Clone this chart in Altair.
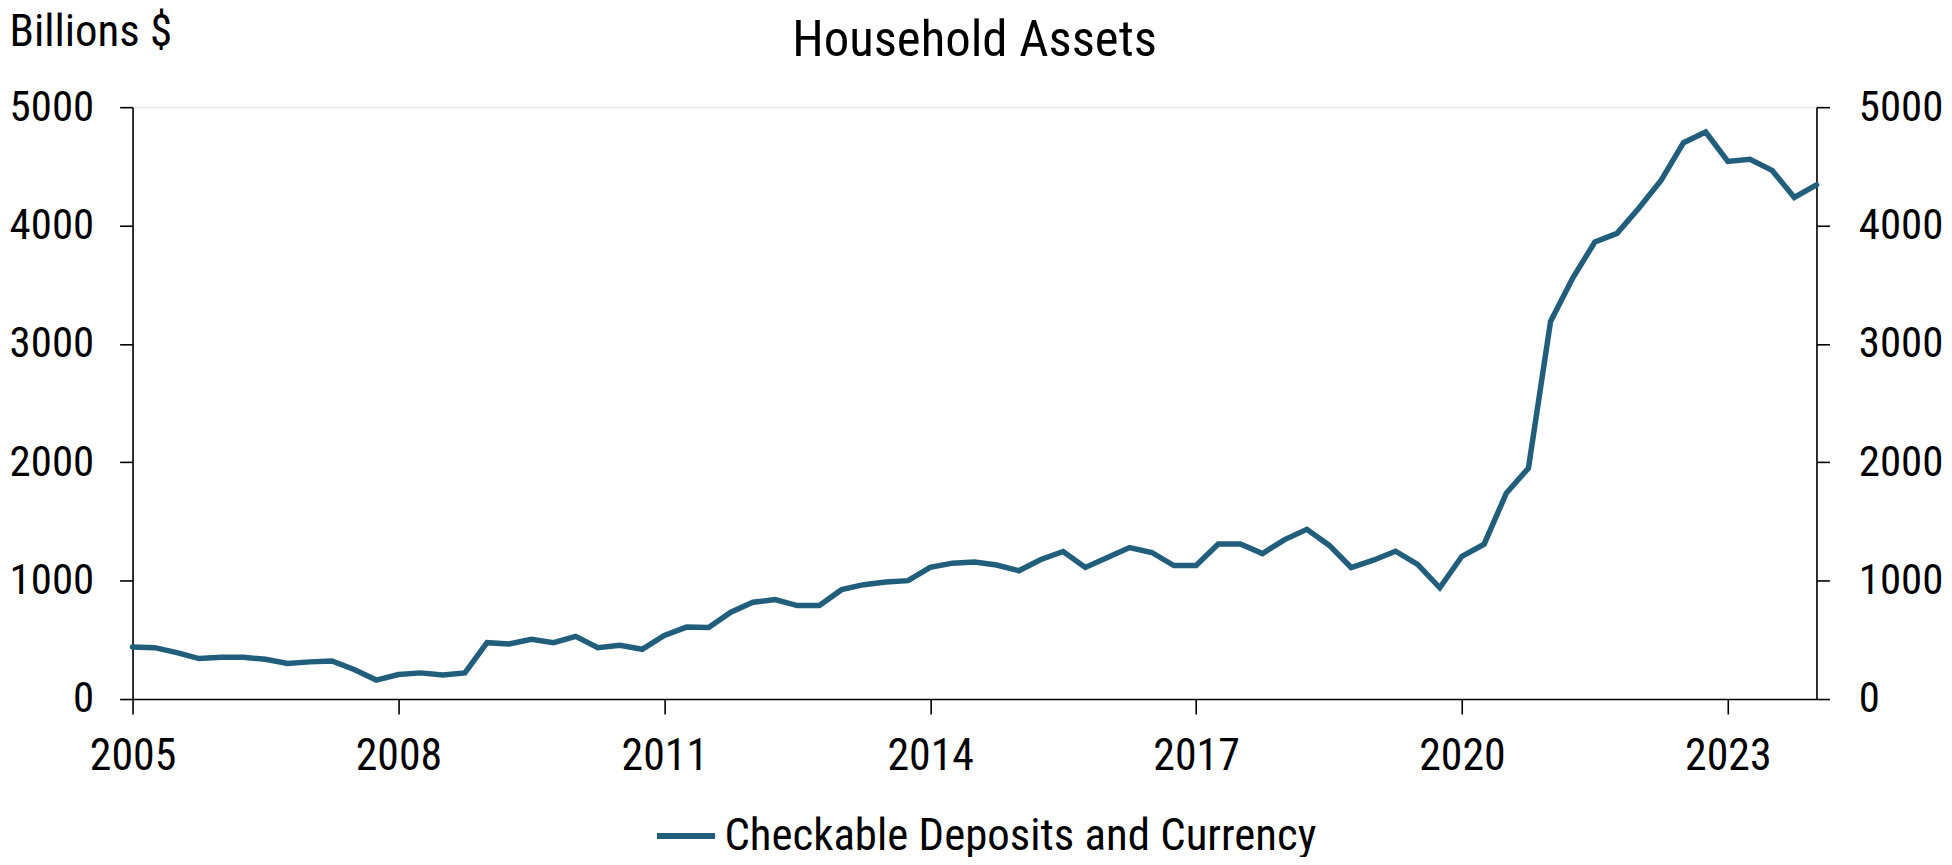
import altair as alt
import pandas as pd

# Quarterly observations, 2005Q1 through 2024Q1 (billions of dollars)
years = list(range(2005, 2025))
quarters_per_year = 4
values = [
    440, 434, 392, 342,      # 2005
    353, 353, 336, 300,      # 2006
    314, 322, 249, 160,      # 2007
    207, 221, 204, 221,      # 2008
    476, 465, 504, 476,      # 2009
    529, 434, 454, 420,      # 2010
    538, 608, 604, 734,      # 2011
    818, 840, 790, 790,      # 2012
    924, 966, 989, 1000,     # 2013
    1112, 1148, 1157, 1132,  # 2014
    1084, 1179, 1246, 1112,  # 2015
    1196, 1280, 1238, 1128,  # 2016
    1128, 1310, 1310, 1229,  # 2017
    1347, 1434, 1300, 1111,  # 2018
    1173, 1249, 1138, 940,   # 2019
    1206, 1308, 1738, 1950,  # 2020
    3190, 3557, 3861, 3934,  # 2021
    4151, 4385, 4700, 4790,  # 2022
    4542, 4560, 4466, 4238,  # 2023
    4343,                    # 2024Q1
]
x_ticks = [2005, 2008, 2011, 2014, 2017, 2020, 2023]
y_ticks = [0, 1000, 2000, 3000, 4000, 5000]
series_name = "Checkable Deposits and Currency"
chart_title = "Household Assets"
y_unit = "Billions $"

t = [y + q / quarters_per_year for y in years for q in range(quarters_per_year)][: len(values)]
df = pd.DataFrame({"t": t, "v": values, "series": series_name})

FONT = "Liberation Sans Narrow, Arial Narrow, Roboto Condensed, DejaVu Sans Condensed, sans-serif"
LINE = "#215e7b"

xenc = alt.X(
    "t:Q",
    scale=alt.Scale(domain=[2005, 2024], nice=False, zero=False),
    axis=alt.Axis(
        values=x_ticks, format="d", title=None, grid=False,
        tickSize=15, tickWidth=1.6, tickColor="black",
        domainColor="black", domainWidth=1.6,
        labelFontSize=44, labelFont=FONT, labelColor="black",
        labelPadding=21, labelFlush=False,
    ),
)

def yaxis(orient, with_title):
    kw = dict(
        orient=orient, values=y_ticks, format="d", grid=False,
        tickSize=13, tickWidth=1.6, tickColor="black",
        domainColor="black", domainWidth=1.6,
        labelFontSize=43, labelFont=FONT, labelColor="black",
        labelPadding=26 if orient == "left" else 29, labelFlush=False,
    )
    if with_title:
        kw.update(
            title=y_unit, titleAngle=0, titleX=-124, titleY=-62,
            titleAlign="left", titleBaseline="alphabetic",
            titleFontSize=45, titleFont=FONT, titleFontWeight="normal",
            titleColor="black",
        )
    else:
        kw.update(title=None)
    return alt.Axis(**kw)

yscale = alt.Scale(domain=[0, 5000], nice=False)

main = alt.Chart(df).mark_line(strokeWidth=5.5, strokeJoin="miter", strokeCap="round").encode(
    x=xenc,
    y=alt.Y("v:Q", scale=yscale, axis=yaxis("left", True)),
    color=alt.Color(
        "series:N",
        scale=alt.Scale(range=[LINE]),
        legend=alt.Legend(
            title=None, orient="none", legendX=523, legendY=699,
            symbolType="stroke",
            symbolSize=3400, symbolStrokeWidth=6,
            labelFontSize=45, labelFont=FONT, labelColor="black",
            labelOffset=6, labelLimit=1000,
        ),
    ),
)

right = alt.Chart(df).mark_line(opacity=0).encode(
    x=xenc,
    y=alt.Y("v:Q", scale=yscale, axis=yaxis("right", False)),
)

chart = (
    alt.layer(main, right)
    .resolve_scale(y="independent")
    .properties(
        width=1690,
        height=594,
        padding={"left": 125, "top": 98, "right": 128, "bottom": 157},
        autosize=alt.AutoSizeParams(type="none"),
        title=alt.TitleParams(
            chart_title, fontSize=51, font=FONT, fontWeight="normal",
            color="black", anchor="middle", offset=-58,
        ),
    )
    .configure_view(stroke=None)
    .configure(background="white")
)

chart.save("out.html", embed_options={"renderer": "svg", "actions": False})
